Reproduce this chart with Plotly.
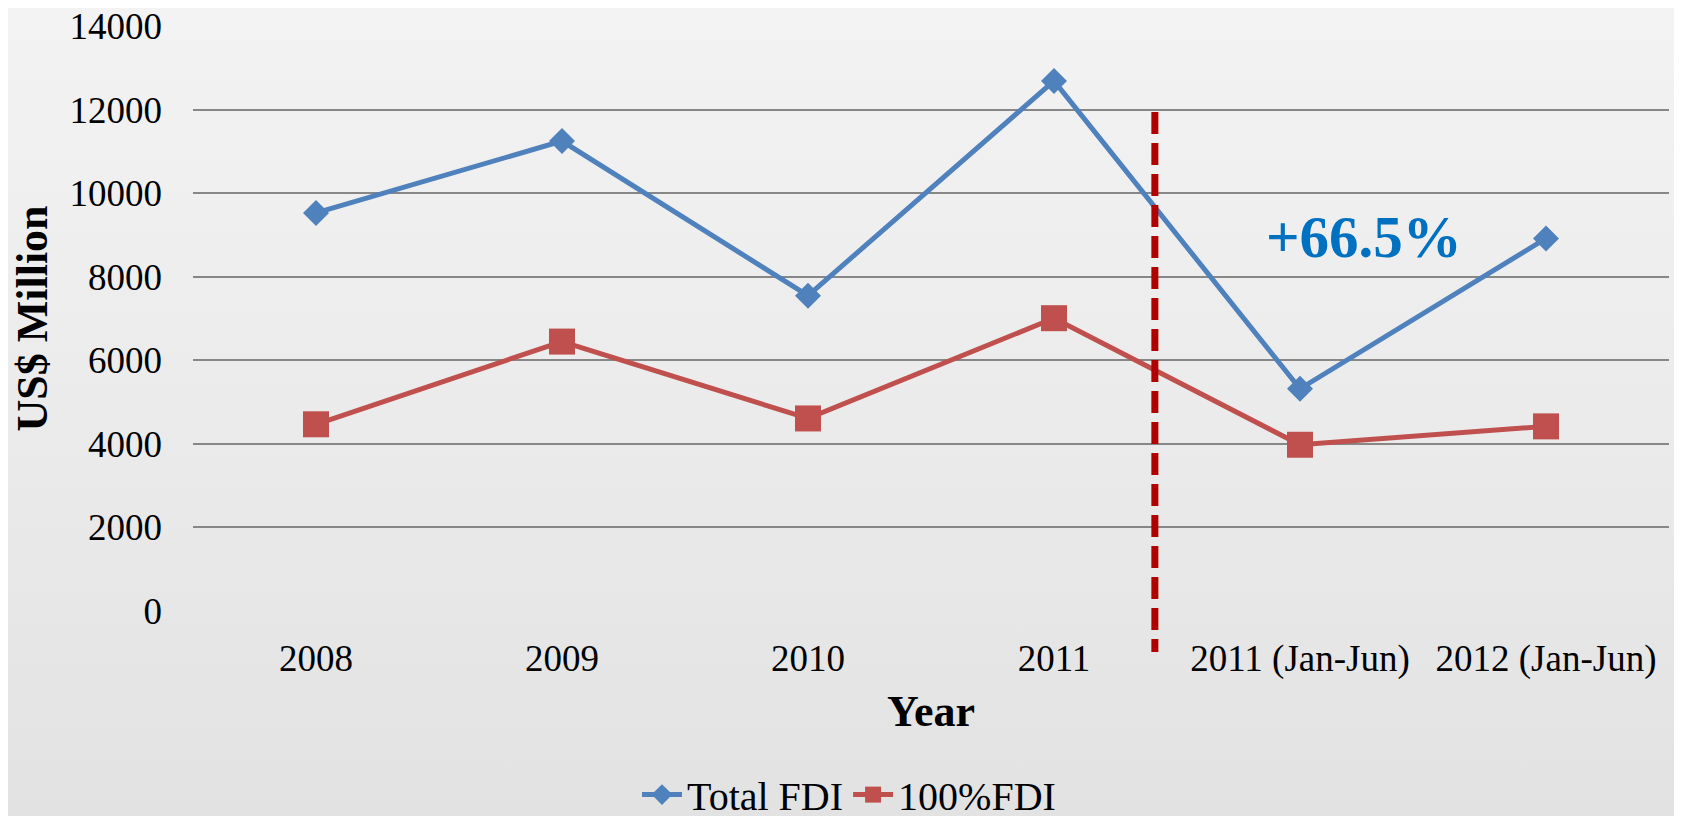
import plotly.graph_objects as go
from urllib.parse import quote

# Chart data
years = ['2008', '2009', '2010', '2011', '2011 (Jan-Jun)', '2012 (Jan-Jun)']
total_fdi = [9530, 11250, 7550, 12690, 5320, 8920]
full_fdi = [4470, 6450, 4610, 7010, 3980, 4420]

FONT = 'Liberation Serif, Times New Roman, serif'
W, H = 1682, 816
L, R, T, B = 185, 21, 18, 213   # page body adds 8px offset

# soft paper-like background: light at top, darker at bottom
bg_svg = ('<svg xmlns="http://www.w3.org/2000/svg" width="100" height="100" preserveAspectRatio="none">'
          '<defs><linearGradient id="g" x1="0" y1="0" x2="0" y2="1">'
          '<stop offset="0" stop-color="#f3f3f3"/><stop offset="0.5" stop-color="#ebebeb"/>'
          '<stop offset="1" stop-color="#e2e2e2"/></linearGradient></defs>'
          '<rect width="100" height="100" fill="url(#g)"/></svg>')
bg_src = 'data:image/svg+xml;charset=utf-8,' + quote(bg_svg)

pw = W - L - R
ph = H - T - B

fig = go.Figure(data=[
    go.Scatter(name='Total FDI', x=years, y=total_fdi, mode='lines+markers',
               line=dict(color='#4F81BD', width=5),
               marker=dict(symbol='diamond', size=20, color='#4F81BD')),
    go.Scatter(name='100%FDI', x=years, y=full_fdi, mode='lines+markers',
               line=dict(color='#C0504D', width=5),
               marker=dict(symbol='square', size=26, color='#C0504D')),
])

fig.update_layout(
    width=W, height=H,
    margin=dict(l=L, r=R, t=T, b=B),
    paper_bgcolor='#ebebeb',
    plot_bgcolor='rgba(0,0,0,0)',
    font=dict(family=FONT, size=37, color='black'),
    showlegend=True,
    legend=dict(
        orientation='h',
        xref='container', yref='container',
        x=0.5, xanchor='center',
        y=0.036, yanchor='middle',
        bgcolor='rgba(0,0,0,0)',
        font=dict(size=40),
        itemwidth=40,
        tracegroupgap=0,
    ),
    images=[dict(source=bg_src, xref='paper', yref='paper',
                 x=-L / pw, y=1 + T / ph, sizex=W / pw, sizey=H / ph,
                 xanchor='left', yanchor='top', sizing='stretch', layer='below')],
    # divider between full years and half-year figures
    shapes=[dict(type='line', xref='x', yref='paper',
                 x0=3.41, x1=3.41, y0=0.853, y1=-0.07,
                 line=dict(color='#B00000', width=7, dash='22px,9px'))],
    annotations=[dict(text='<b>+66.5%</b>', x=4.26, y=8950,
                      xref='x', yref='y', showarrow=False,
                      font=dict(family=FONT, size=59, color='#0070C0'))],
)

fig.update_xaxes(
    title_text='<b>Year</b>',
    title_standoff=16,
    automargin=False,
    range=[-0.5, 5.5],
    showgrid=False, zeroline=False, showline=False,
    ticks='', ticklabelstandoff=22,
)

fig.update_yaxes(
    title_text='<b>US$ Million</b>',
    title_standoff=12,
    automargin=False,
    range=[0, 14005], dtick=2000, tickformat='d',
    ticklabeloverflow='allow',
    showgrid=True, gridcolor='#878787', gridwidth=2,
    zeroline=False, showline=False,
    ticks='', ticklabelstandoff=30,
)

fig.write_html('out.html')
